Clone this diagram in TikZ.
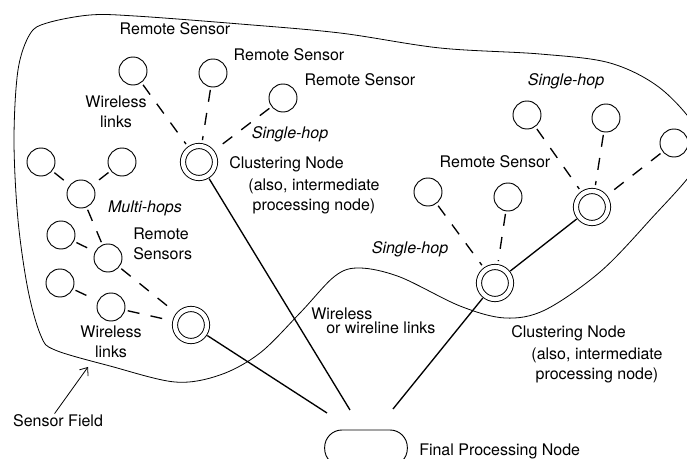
\documentclass[tikz,border=0pt]{standalone}
\usepackage{fontspec}
\setmainfont{TeX Gyre Heros}
\usetikzlibrary{arrows.meta}

\begin{document}
\begin{tikzpicture}[x=0.75pt,y=0.75pt,yscale=-1,xscale=1,
  sensor/.style={draw, circle, line width=0.7pt, minimum size=21pt, inner sep=0pt},
  cluster/.style={draw, circle, double, line width=0.7pt, double distance=3.2pt, minimum size=24pt, inner sep=0pt, outer sep=2.6pt},
  wless/.style={line width=1pt, dash pattern=on 9pt off 8.5pt, shorten <=2pt, shorten >=2pt},
  wire/.style={line width=1pt},
  lbl/.style={font=\fontsize{12}{15}\selectfont, inner sep=0.75pt},
  ital/.style={font=\fontsize{12}{15}\selectfont\itshape, inner sep=0.75pt}]
\useasboundingbox (0,0) rectangle (687,459);
\clip (0,0) rectangle (687,459);

% Sensor Field
\draw [line width=0.6pt] plot [smooth cycle, tension=0.55] coordinates {(47,23) (90,15) (135,16) (240,24) (340,33) (440,48) (540,54) (610,63) (660,88) (697,130) (697,165) (650,220) (600,272) (545,310) (505,318) (460,306) (400,277) (360,268) (335,276) (300,313) (260,353) (220,375) (175,382) (110,366) (55,350) (41,336) (28,290) (18,220) (14,140) (18,70) (30,34)};

% Final Processing Node
\node [draw, line width=0.7pt, rounded corners=13pt, minimum width=62pt, minimum height=27pt] (fin) at (366,448) {};

% Clustering Nodes
\node [cluster] (C1) at (199,162) {};
\node [cluster] (C2) at (191,325) {};
\node [cluster] (C3) at (495,283) {};
\node [cluster] (C4) at (592,207) {};

% Remote Sensors
\node [sensor] (S1) at (133,71) {};
\node [sensor] (S2) at (213,73) {};
\node [sensor] (S3) at (283,98) {};
\node [sensor] (L1) at (41,162) {};
\node [sensor] (L2) at (122,162) {};
\node [sensor] (L3) at (81,194) {};
\node [sensor] (L4) at (61,235) {};
\node [sensor] (L5) at (108,258) {};
\node [sensor] (L6) at (60,283) {};
\node [sensor] (L7) at (111,307) {};
\node [sensor] (R1) at (428,192) {};
\node [sensor] (R2) at (508,197) {};
\node [sensor] (R3) at (527,115) {};
\node [sensor] (R4) at (606,118) {};
\node [sensor] (R5) at (674,143) {};

% Wireless links
\draw [wless] (S1) -- (C1);
\draw [wless] (S2) -- (C1);
\draw [wless] (S3) -- (C1);
\draw [wless] (L1) -- (L3);
\draw [wless] (L2) -- (L3);
\draw [wless] (L3) -- (L5);
\draw [wless] (L4) -- (L5);
\draw [wless] (L5) -- (C2);
\draw [wless] (L6) -- (L7);
\draw [wless] (L7) -- (C2);
\draw [wless] (R1) -- (C3);
\draw [wless] (R2) -- (C3);
\draw [wless] (R3) -- (C4);
\draw [wless] (R4) -- (C4);
\draw [wless] (R5) -- (C4);

% Wireless or wireline links
\coordinate (e1) at (327,413);
\coordinate (e2) at (350,410);
\coordinate (e3) at (393,409);
\draw [wire] (C3) -- (C4);
\draw [wire] (C2) -- (e1);
\draw [wire] (C1) -- (e2);
\draw [wire] (C3) -- (e3);

% Text Node
\node [lbl] (rs1) at (175,29) {Remote Sensor};
\node [lbl] (rs2) at (289,55) {Remote Sensor};
\node [lbl] (rs3) at (360,80) {Remote Sensor};
\node [lbl, align=center] (wl1) at (116,112) {Wireless\\links};
\node [ital] (sh1) at (290,134) {Single-hop};
\node [lbl, anchor=west] (cn1) at (228,164) {Clustering Node};
\node [lbl, align=center] (cn1b) at (314,196) {(also, intermediate\\processing node)};
\node [ital] (mh) at (145,208) {Multi-hops};
\node [lbl, align=left, anchor=west] (rs4) at (132,244) {Remote\\Sensors};
\node [lbl, align=center] (wl2) at (111,342) {Wireless\\links};
\node [lbl, anchor=west] (wl3) at (310,314) {Wireless};
\node [lbl, anchor=west] (wl3b) at (325,328) {or wireline links};
\node [ital] (sh2) at (566,81) {Single-hop};
\node [lbl] (rs5) at (495,162) {Remote Sensor};
\node [ital] (sh3) at (410,249) {Single-hop};
\node [lbl, anchor=west] (cn2) at (510,333) {Clustering Node};
\node [lbl, align=center] (cn2b) at (597,365) {(also, intermediate\\processing node)};
\node [lbl, anchor=west] (fpn) at (418,451) {Final Processing Node};
\node [lbl] (sf) at (58,421) {Sensor Field};

% Sensor Field pointer
\coordinate (fieldpt) at (88,367);
\draw [line width=0.6pt, -{Straight Barb[length=5pt,width=8pt]}] (sf.115) -- (fieldpt);

\end{tikzpicture}
\end{document}
